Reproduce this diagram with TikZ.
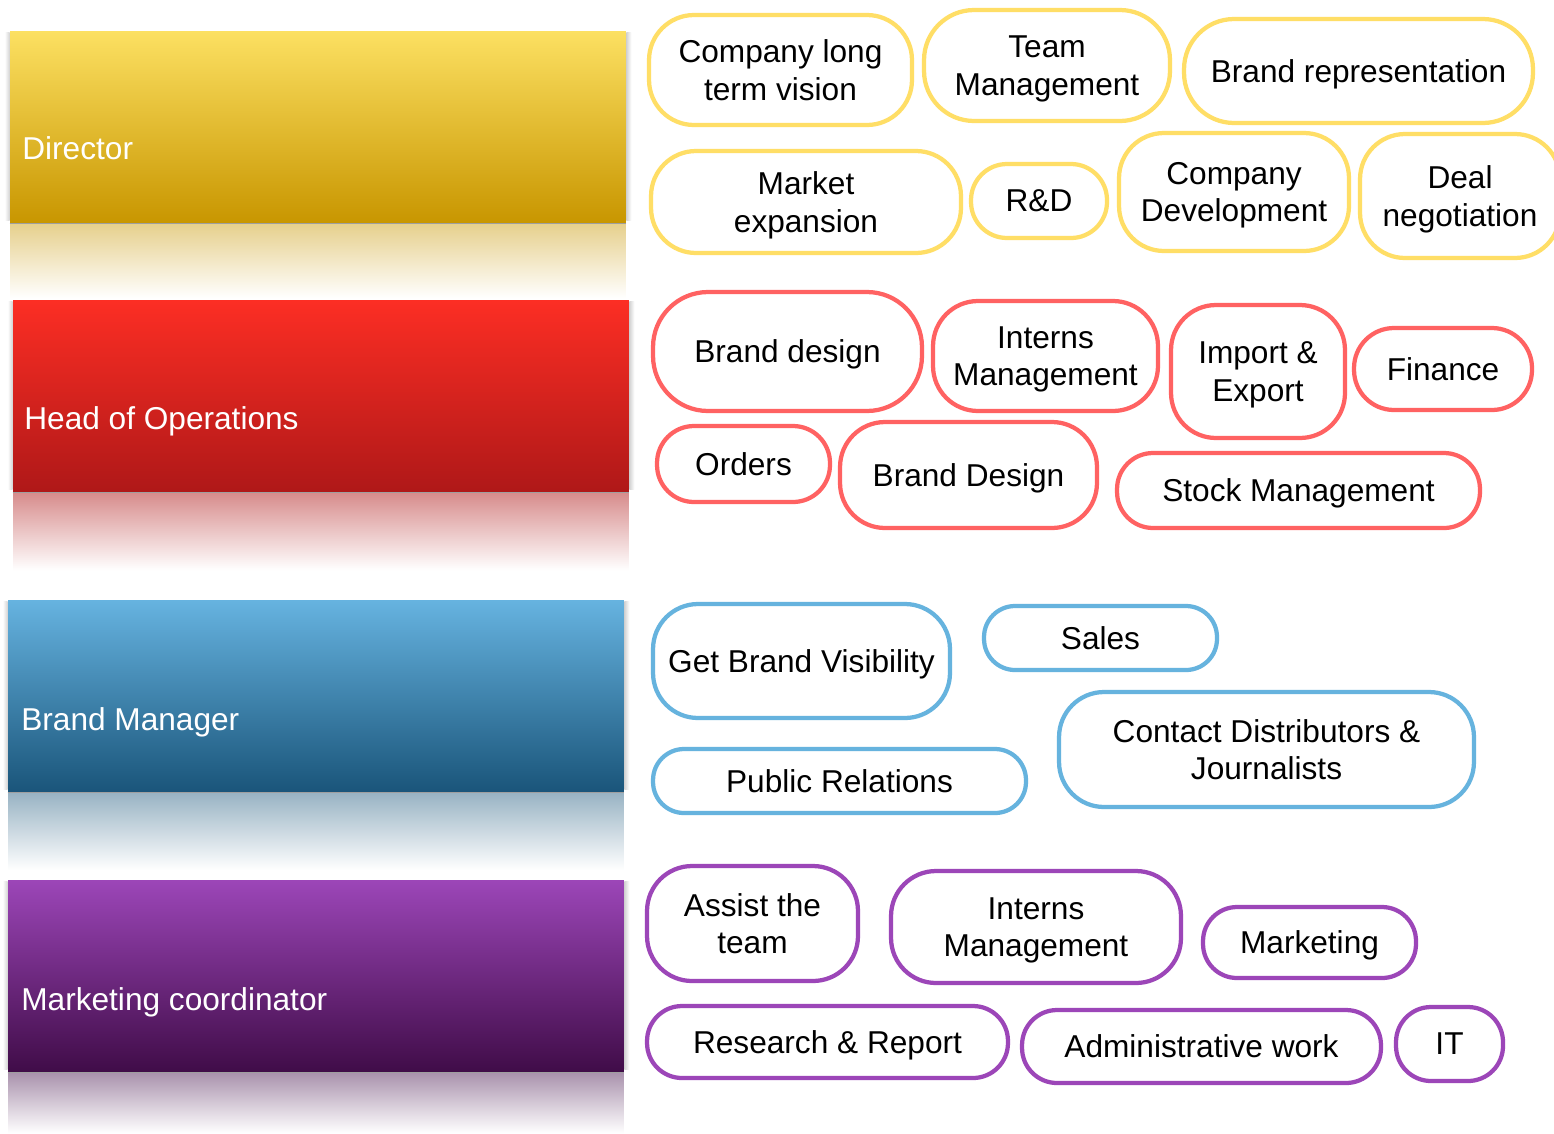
\documentclass[tikz,border=0pt]{standalone}
\usepackage{fontspec}
\setmainfont{Liberation Sans}
\definecolor{ybord}{RGB}{255,222,102}
\definecolor{rbord}{RGB}{255,98,98}
\definecolor{bbord}{RGB}{102,179,222}
\definecolor{pbord}{RGB}{156,70,184}
\definecolor{ytop}{RGB}{252,224,98}
\definecolor{ybot}{RGB}{200,150,0}
\definecolor{rtop}{RGB}{252,46,36}
\definecolor{rbot}{RGB}{175,24,24}
\definecolor{btop}{RGB}{102,179,224}
\definecolor{bbot}{RGB}{26,85,122}
\definecolor{ptop}{RGB}{156,70,184}
\definecolor{pbot}{RGB}{64,12,72}
\tikzset{
  pill/.style={draw=#1, line width=0.085cm, fill=white, rectangle, inner sep=0pt,
    align=center, text depth=0pt, font=\fontsize{18}{21.5}\selectfont, text=black},
  bar/.style={rectangle, minimum width=12.32cm, minimum height=3.84cm, inner sep=0pt},
  barlabel/.style={anchor=west, inner sep=0pt, text depth=0pt, text=white, font=\fontsize{18}{21.5}\selectfont},
  refl/.style={rectangle, minimum width=12.32cm, minimum height=1.5cm, inner sep=0pt, anchor=north},
  barline/.style={draw=gray!75, line width=0.03cm},
  lshade/.style={left color=white, right color=black!18, draw=none},
  rshade/.style={right color=white, left color=black!18, draw=none}
}
\begin{document}
\begin{tikzpicture}[x=0.02cm,y=-0.02cm]
\useasboundingbox (0,0) rectangle (1554,1133);
\clip (0,0) rectangle (1554,1133);
\fill[white] (0,0) rectangle (1554,1133);

% reflections
\node[refl, top color=ybot!45!white, bottom color=white, minimum height=1.5cm] (dirr) at (318,223) {};
\node[refl, top color=rbot!50!white, bottom color=white, minimum height=1.56cm] (hopr) at (321,492) {};
\node[refl, top color=bbot!45!white, bottom color=white, minimum height=1.56cm] (bmr) at (316,792) {};
\node[refl, top color=pbot!45!white, bottom color=white, minimum height=1.22cm] (mcr) at (316,1072) {};

% bars
\node[bar, top color=ytop, bottom color=ybot] (dir) at (318,127) {};
\node[bar, top color=rtop, bottom color=rbot] (hop) at (321,396) {};
\node[bar, top color=btop, bottom color=bbot] (bm) at (316,696) {};
\node[bar, top color=ptop, bottom color=pbot] (mc) at (316,976) {};
\foreach \b in {dir,hop,bm,mc}{
  \shade[lshade] ([xshift=-0.1cm,yshift=-0.04cm]\b.north west) rectangle ([yshift=0.06cm]\b.south west);
  \shade[rshade] ([yshift=-0.04cm]\b.north east) rectangle ([xshift=0.1cm,yshift=0.06cm]\b.south east);
  \draw[barline] (\b.south west) -- (\b.south east);
}

\node[barlabel] (dirl) at (22,148) {Director};
\node[barlabel] (hopl) at (24,418) {Head of Operations};
\node[barlabel] (bml) at (21,719) {Brand Manager};
\node[barlabel] (mcl) at (21,999) {Marketing coordinator};

% Director tasks
\node[pill=ybord, minimum width=5.26cm, minimum height=2.2cm, rounded corners=0.9cm] (cv) at (780.5,70) {Company long\\term vision};
\node[pill=ybord, minimum width=4.92cm, minimum height=2.22cm, rounded corners=1.0cm] (tm) at (1047,65.5) {Team\\Management};
\node[pill=ybord, minimum width=6.98cm, minimum height=2.08cm, rounded corners=1.0cm] (br) at (1358.5,71) {Brand representation};
\node[pill=ybord, minimum width=6.2cm, minimum height=2.04cm, rounded corners=0.9cm] (me) at (806,202) {Market\\expansion};
\node[pill=ybord, minimum width=2.72cm, minimum height=1.48cm, rounded corners=0.72cm] (rd) at (1039,201) {R\&D};
\node[pill=ybord, minimum width=4.6cm, minimum height=2.36cm, rounded corners=0.9cm] (cd) at (1234,192) {Company\\Development};
\node[pill=ybord, minimum width=4.0cm, minimum height=2.48cm, rounded corners=0.9cm] (dn) at (1460,196) {Deal\\negotiation};

% Head of Operations tasks
\node[pill=rbord, minimum width=5.38cm, minimum height=2.38cm, rounded corners=1.1cm] (bd) at (787.5,351.5) {Brand design};
\node[pill=rbord, minimum width=4.5cm, minimum height=2.2cm, rounded corners=0.9cm] (im) at (1045.5,356) {Interns\\Management};
\node[pill=rbord, minimum width=3.48cm, minimum height=2.66cm, rounded corners=0.9cm] (ie) at (1258,371.5) {Import \&\\Export};
\node[pill=rbord, minimum width=3.56cm, minimum height=1.64cm, rounded corners=0.8cm] (fi) at (1443,369) {Finance};
\node[pill=rbord, minimum width=3.46cm, minimum height=1.52cm, rounded corners=0.74cm] (ord) at (743.5,464) {Orders};
\node[pill=rbord, minimum width=5.14cm, minimum height=2.12cm, rounded corners=0.9cm] (bD) at (968.5,475) {Brand Design};
\node[pill=rbord, minimum width=7.26cm, minimum height=1.5cm, rounded corners=0.72cm] (sm) at (1298.5,490.5) {Stock Management};

% Brand Manager tasks
\node[pill=bbord, minimum width=5.94cm, minimum height=2.28cm, rounded corners=0.9cm] (gbv) at (801.5,661) {Get Brand Visibility};
\node[pill=bbord, minimum width=4.66cm, minimum height=1.28cm, rounded corners=0.62cm] (sa) at (1100.5,638) {Sales};
\node[pill=bbord, minimum width=7.46cm, minimum height=1.28cm, rounded corners=0.62cm] (pr) at (839.5,781) {Public Relations};
\node[pill=bbord, minimum width=8.3cm, minimum height=2.3cm, rounded corners=0.9cm] (cdj) at (1266.5,749.5) {Contact Distributors \&\\Journalists};

% Marketing coordinator tasks
\node[pill=pbord, minimum width=4.22cm, minimum height=2.3cm, rounded corners=0.9cm] (at) at (752.5,923.5) {Assist the\\team};
\node[pill=pbord, minimum width=5.8cm, minimum height=2.24cm, rounded corners=0.9cm] (pim) at (1036,927) {Interns\\Management};
\node[pill=pbord, minimum width=4.26cm, minimum height=1.42cm, rounded corners=0.68cm] (mk) at (1309.5,942.5) {Marketing};
\node[pill=pbord, minimum width=7.22cm, minimum height=1.44cm, rounded corners=0.7cm] (rr) at (827.5,1042) {Research \& Report};
\node[pill=pbord, minimum width=7.18cm, minimum height=1.46cm, rounded corners=0.7cm] (aw) at (1201.5,1046.5) {Administrative work};
\node[pill=pbord, minimum width=2.14cm, minimum height=1.48cm, rounded corners=0.7cm] (it) at (1449.5,1044) {IT};
\end{tikzpicture}
\end{document}
